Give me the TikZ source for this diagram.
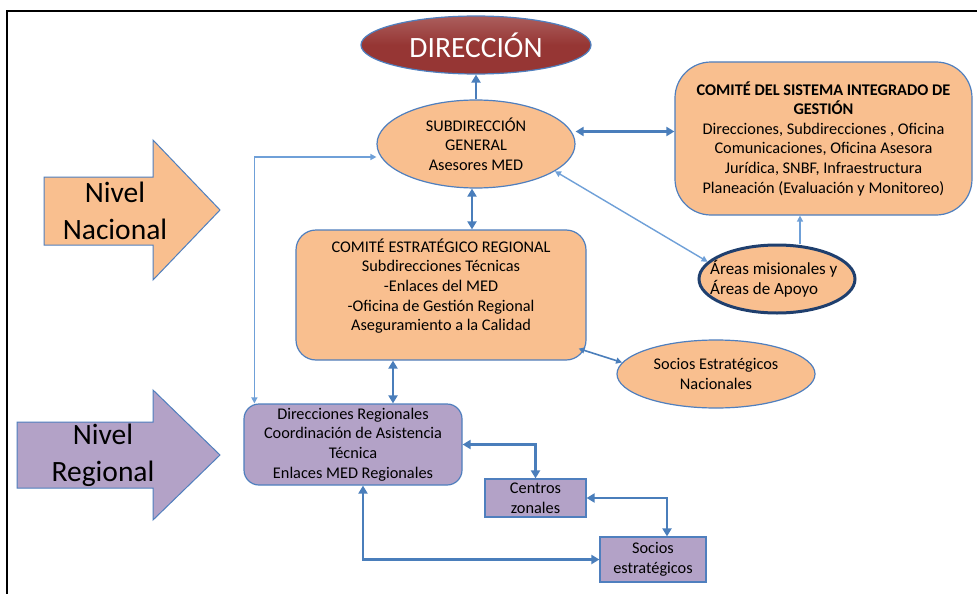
\documentclass[tikz,border=0pt]{standalone}
\usepackage{fontspec}
\setmainfont{Carlito}
\usetikzlibrary{shapes.geometric,arrows.meta,calc}

\definecolor{peach}{HTML}{F9BF8F}
\definecolor{lilac}{HTML}{B3A2C7}
\definecolor{edgeblue}{HTML}{4F7FBE}
\definecolor{linkblue}{HTML}{4A7EBB}
\definecolor{paleblue}{HTML}{6FA0D8}
\definecolor{wine}{HTML}{963634}
\definecolor{navy}{HTML}{1F3F6E}

\tikzset{
  smalltip/.tip={Triangle[length=6pt,width=6pt]},
  bigtip/.tip={Triangle[length=8pt,width=9pt]},
  txt/.style={font=\fontsize{16.3}{19.6}\selectfont, align=center, inner sep=0pt},
  oval/.style={ellipse, draw=edgeblue, line width=1.2pt, fill=peach, inner sep=0pt, txt},
  orangebox/.style={draw=edgeblue, line width=1.2pt, fill=peach, inner sep=0pt, txt},
  lilacbox/.style={draw=edgeblue, line width=1.2pt, fill=lilac, inner sep=0pt, txt},
  dbl/.style={draw=linkblue, line width=2.6pt, bigtip-bigtip},
  paleline/.style={draw=paleblue, line width=1.4pt},
  levelarrow/.style={draw=edgeblue, line width=1pt},
  leveltxt/.style={font=\fontsize{29.5}{37}\selectfont, align=center, inner sep=0pt},
}

\begin{document}
\begin{tikzpicture}[x=1pt,y=-1pt]
  \useasboundingbox (0,0) rectangle (977,594);
  \fill[white] (0,0) rectangle (977,594);

  % outer frame (only top and left edges show)
  \draw[black, line width=2pt] (7,594) -- (7,11) -- (977,11);

  % level arrows
  \draw[levelarrow, fill=peach] (44,177) -- (153,177) -- (153,140) -- (220,210)
        -- (153,280) -- (153,245) -- (44,245) -- cycle;
  \node[leveltxt] (nacional) at (115,211) {Nivel\\Nacional};
  \draw[levelarrow, fill=lilac] (17,422) -- (153,422) -- (153,390) -- (220,455)
        -- (153,520) -- (153,488) -- (17,488) -- cycle;
  \node[leveltxt] (regional) at (103,455) {Nivel\\Regional};

  % national level
  \node[ellipse, draw=edgeblue, line width=1.2pt, top color=wine!80!white, bottom color=wine,
        middle color=wine, minimum width=230pt, minimum height=58pt, inner sep=0pt,
        text=white, font=\fontsize{29.5}{31}\selectfont] (dir) at (476,45) {DIRECCIÓN};

  \node[oval, minimum width=198pt, minimum height=88pt] (sub) at (476,144)
       {SUBDIRECCIÓN\\GENERAL\\Asesores MED};

  \node[orangebox, rounded corners=36pt, minimum width=297pt, minimum height=153pt]
       (csig) at (823.5,138.5)
       {\textbf{COMITÉ DEL SISTEMA INTEGRADO DE}\\\textbf{GESTIÓN}\\
        Direcciones, Subdirecciones , Oficina\\Comunicaciones, Oficina Asesora\\
        Jurídica, SNBF, Infraestructura\\Planeación (Evaluación y Monitoreo)};

  \node[ellipse, draw=navy, line width=3pt, fill=peach, minimum width=156pt,
        minimum height=68pt, inner sep=0pt] (areas) at (777,279) {};
  \node[txt, align=left, anchor=west, font=\fontsize{17}{20}\selectfont] (areastxt) at (710,279)
       {Áreas misionales y\\Áreas de Apoyo};

  \node[orangebox, rounded corners=20pt, minimum width=290pt, minimum height=130pt]
       (cest) at (441,295) {};
  \node[txt] (cesttxt) at (441,286)
       {COMITÉ ESTRATÉGICO REGIONAL\\Subdirecciones Técnicas\\-Enlaces del MED\\
        -Oficina de Gestión Regional\\Aseguramiento a la Calidad};

  \node[oval, minimum width=198pt, minimum height=68pt] (socn) at (716,374)
       {Socios Estratégicos\\Nacionales};

  % regional level
  \node[lilacbox, rounded corners=15pt, minimum width=218pt, minimum height=81pt]
       (dreg) at (353,444.5)
       {Direcciones Regionales\\Coordinación de Asistencia\\Técnica\\Enlaces MED Regionales};

  \node[lilacbox, minimum width=101pt, minimum height=38pt] (cz) at (535.5,498)
       {Centros\\zonales};

  \node[lilacbox, minimum width=106pt, minimum height=45pt] (sest) at (653,559.5)
       {Socios\\estratégicos};

  % connectors
  \draw[draw=linkblue, line width=2pt, -bigtip] (sub.north) -- (dir.south);
  \draw[dbl] ([yshift=7pt]csig.west) -- ([yshift=7pt]csig.west -| sub.east);
  \draw[paleline, smalltip-smalltip] (sub.-19) -- (areas.166);
  \draw[paleline, -smalltip] ([xshift=23pt]areas.north) -- ([xshift=23pt]areas.north |- csig.south);
  \draw[dbl] ([xshift=-4pt]sub.south) -- ([xshift=-4pt]sub.south |- cest.north);
  \draw[draw=linkblue, line width=1.6pt, smalltip-smalltip]
       ([shift={(-8pt,12pt)}]cest.south east) -- (socn.173);
  \draw[dbl] ([xshift=-48pt]cest.south) -- ([xshift=-48pt]cest.south |- dreg.north);
  \draw[paleline, smalltip-smalltip] ([xshift=11pt]dreg.north west) |- ([yshift=-13pt]sub.west);
  \draw[dbl] (dreg.east) -| (cz.north);
  \draw[dbl] (cz.east) -| ([xshift=14pt]sest.north);
  \draw[dbl] ([xshift=10pt]dreg.south) |- (sest.west);
\end{tikzpicture}
\end{document}
